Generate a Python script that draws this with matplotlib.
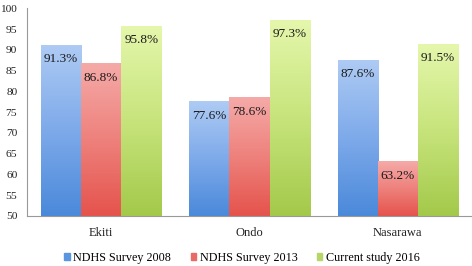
import numpy as np
import matplotlib
matplotlib.use("Agg")
import matplotlib.pyplot as plt
from matplotlib.colors import LinearSegmentedColormap
from matplotlib.patches import Rectangle

categories = ["Ekiti", "Ondo", "Nasarawa"]
series_names = ["NDHS Survey 2008", "NDHS Survey 2013", "Current study 2016"]
ndhs_2008 = [91.3, 77.6, 87.6]
ndhs_2013 = [86.8, 78.6, 63.2]
current_2016 = [95.8, 97.3, 91.5]
y_ticks = [50, 55, 60, 65, 70, 75, 80, 85, 90, 95, 100]

top_colors = ["#aecbf4", "#f5aaa8", "#e5f7ac"]
mid_colors = ["#7eaaea", "#ee817c", "#c7e47c"]
bottom_colors = ["#4a89da", "#e5534c", "#a3c94a"]
legend_colors = ["#5b95df", "#e96a64", "#b6d66a"]

plt.rcParams['font.family'] = ['Liberation Serif', 'DejaVu Serif']

fig = plt.figure(figsize=(4.72, 2.66), dpi=100)
ax = fig.add_axes([27/472, 1 - 216/266, 445/472, 207.5/266])

x = np.arange(len(categories))
w = 0.27
ymin = 50
all_series = [ndhs_2008, ndhs_2013, current_2016]
for i, vals in enumerate(all_series):
    bars = ax.bar(x + (i - 1) * w, np.array(vals) - ymin, w, bottom=ymin,
                  color=legend_colors[i], label=series_names[i], linewidth=0)
    cmap = LinearSegmentedColormap.from_list(
        "g%d" % i, [bottom_colors[i], mid_colors[i], top_colors[i]])
    grad = np.linspace(0, 1, 256).reshape(-1, 1)
    for b, v in zip(bars, vals):
        x0 = b.get_x()
        im = ax.imshow(grad, cmap=cmap, aspect='auto', origin='lower',
                       extent=[x0, x0 + b.get_width(), ymin, v], zorder=2)
        im.set_clip_path(b)
        ax.text(x0 + b.get_width() / 2, v - 3.5, f"{v:.1f}%", ha='center', va='center',
                fontsize=9.5, color='#1a1a1a', zorder=3)

ax.set_xlim(-0.5, 2.5)
ax.set_ylim(50, 100)
ax.set_yticks(y_ticks)
ax.set_yticklabels([str(t) for t in y_ticks], fontsize=8.2)
ax.set_xticks(x)
ax.set_xticklabels(categories, fontsize=9)
ax.tick_params(axis='both', length=0, colors='#222222')
ax.tick_params(axis='y', pad=7)
ax.tick_params(axis='x', pad=8)
for s in ['top', 'right']:
    ax.spines[s].set_visible(False)
ax.spines['left'].set_color('#999999')
ax.spines['bottom'].set_color('#999999')
ax.spines['left'].set_linewidth(0.8)
ax.spines['bottom'].set_linewidth(0.8)

handles = [Rectangle((0, 0), 1, 1, color=c) for c in legend_colors]
fig.legend(handles, series_names, loc='center', bbox_to_anchor=(242/472, 1 - 258/266),
           ncol=3, frameon=False, fontsize=8.7, handlelength=0.45, handleheight=0.45,
           handletextpad=0.3, columnspacing=1.6, borderpad=0.1)

fig.savefig("out.png", dpi=100)
